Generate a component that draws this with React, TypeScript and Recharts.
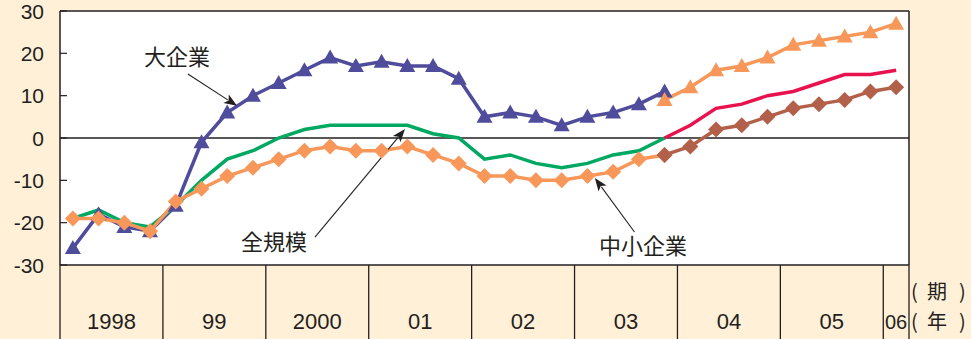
import {
  ComposedChart,
  Line,
  XAxis,
  YAxis,
  CartesianGrid,
  ReferenceLine,
  ReferenceDot,
} from 'recharts'

// Quarters 1998 Q1 .. 2006 Q1
const quarters = [
  '98Q1', '98Q2', '98Q3', '98Q4',
  '99Q1', '99Q2', '99Q3', '99Q4',
  '00Q1', '00Q2', '00Q3', '00Q4',
  '01Q1', '01Q2', '01Q3', '01Q4',
  '02Q1', '02Q2', '02Q3', '02Q4',
  '03Q1', '03Q2', '03Q3', '03Q4',
  '04Q1', '04Q2', '04Q3', '04Q4',
  '05Q1', '05Q2', '05Q3', '05Q4',
  '06Q1',
]
const yearLabels = ['1998', '99', '2000', '01', '02', '03', '04', '05', '06']
const yearStarts = [0, 4, 8, 12, 16, 20, 24, 28, 32, 33]
const yTicks = [-30, -20, -10, 0, 10, 20, 30]

// old basis (to 2003 Q4)
const largeOld = [-26, -18, -21, -22, -16, -1, 6, 10, 13, 16, 19, 17, 18, 17, 17, 14, 5, 6, 5, 3, 5, 6, 8, 11]
const allOld = [-19, -17, -20, -21, -16, -10, -5, -3, 0, 2, 3, 3, 3, 3, 1, 0, -5, -4, -6, -7, -6, -4, -3, 0]
const smallOld = [-19, -19, -20, -22, -15, -12, -9, -7, -5, -3, -2, -3, -3, -2, -4, -6, -9, -9, -10, -10, -9, -8, -5, -4]
// new basis (from 2003 Q4)
const largeNew = [9, 12, 16, 17, 19, 22, 23, 24, 25, 27]
const allNew = [0, 3, 7, 8, 10, 11, 13, 15, 15, 16]
const smallNew = [-4, -2, 2, 3, 5, 7, 8, 9, 11, 12]
const NEW_START = 23

const data = quarters.map((q, i) => ({
  q,
  x: i + 0.5,
  largeOld: largeOld[i] ?? null,
  allOld: allOld[i] ?? null,
  smallOld: smallOld[i] ?? null,
  largeNew: i >= NEW_START ? largeNew[i - NEW_START] : null,
  allNew: i >= NEW_START ? allNew[i - NEW_START] : null,
  smallNew: i >= NEW_START ? smallNew[i - NEW_START] : null,
}))

const W = 971
const H = 339
const LEFT = 60
const RIGHT = 909
const TOP = 11
const AXIS_H = 74
const UNIT = (RIGHT - LEFT) / quarters.length

const BG = '#FFF0D7'
const INK = '#231F20'
const NUM_FONT = '"Liberation Sans", Arial, sans-serif'
const CJK_FONT = '"Noto Sans CJK JP", sans-serif'

const C_LARGE = '#4F4C9C'
const C_ALL = '#00A862'
const C_SMALL = '#F7985A'
const C_ALL_NEW = '#E8124F'
const C_SMALL_NEW = '#B3604A'

const triangle = (color: string) => (p: any) => {
  const { cx, cy, index } = p
  if (cx == null || cy == null || p.value == null) return <g key={`t${index}`} />
  return (
    <polygon
      key={`t${index}`}
      points={`${cx},${cy - 8} ${cx - 8},${cy + 6} ${cx + 8},${cy + 6}`}
      fill={color}
    />
  )
}

const diamond = (color: string) => (p: any) => {
  const { cx, cy, index } = p
  if (cx == null || cy == null || p.value == null) return <g key={`d${index}`} />
  return (
    <polygon
      key={`d${index}`}
      points={`${cx},${cy - 8} ${cx + 8},${cy} ${cx},${cy + 8} ${cx - 8},${cy}`}
      fill={color}
    />
  )
}

function YTick(props: any) {
  const { x, y, payload } = props
  return (
    <g>
      <line x1={LEFT} x2={LEFT + 7} y1={y} y2={y} stroke={INK} strokeWidth={1.2} />
      <text x={LEFT - 16} y={y} dy="0.36em" textAnchor="end" fontSize={21} fill={INK} fontFamily={NUM_FONT}>
        {payload.value}
      </text>
    </g>
  )
}

function YearTick(props: any) {
  const { x, y, payload } = props
  const v = payload.value as number
  const k = yearStarts.indexOf(v)
  const span = k >= 0 && k < yearStarts.length - 1 ? yearStarts[k + 1] - v : 0
  return (
    <g>
      <line x1={x} x2={x} y1={y} y2={y + AXIS_H} stroke={INK} strokeWidth={1.3} />
      {span > 0 && (
        <text
          x={x + (span * UNIT) / 2}
          y={y + 64}
          textAnchor="middle"
          fontSize={span < 4 ? 20 : 22}
          fill={INK}
          fontFamily={NUM_FONT}
        >
          {yearLabels[k]}
        </text>
      )}
      {k === yearStarts.length - 1 && (
        <g fontFamily={CJK_FONT} fontSize={20} fill={INK}>
          <text x={x + 2} y={y + 34}>(</text>
          <text x={x + 18} y={y + 34}>期</text>
          <text x={x + 50} y={y + 34}>)</text>
          <text x={x + 2} y={y + 64}>(</text>
          <text x={x + 18} y={y + 64}>年</text>
          <text x={x + 50} y={y + 64}>)</text>
        </g>
      )}
    </g>
  )
}

const arrow = (p: any) => {
  const { x1, y1, x2, y2 } = p
  if ([x1, y1, x2, y2].some((v) => v == null)) return <g />
  const dx = x2 - x1
  const dy = y2 - y1
  const len = Math.hypot(dx, dy)
  const ux = dx / len
  const uy = dy / len
  const bx = x2 - ux * 13
  const by = y2 - uy * 13
  const nx = -uy * 5
  const ny = ux * 5
  return (
    <g>
      <line x1={x1} y1={y1} x2={bx + ux * 2} y2={by + uy * 2} stroke={INK} strokeWidth={1.1} />
      <polygon points={`${x2},${y2} ${bx + nx},${by + ny} ${bx + ux * 3},${by + uy * 3} ${bx - nx},${by - ny}`} fill={INK} />
    </g>
  )
}

const label = (text: string) => (p: any) => (
  <text x={p.cx} y={p.cy} dy="0.36em" textAnchor="middle" fontSize={22} fill={INK} fontFamily={CJK_FONT}>
    {text}
  </text>
)

export default function App() {
  return (
    <div style={{ position: 'absolute', left: 0, top: 0, width: W, height: H, background: BG }}>
      <ComposedChart
        width={W}
        height={H}
        data={data}
        margin={{ top: TOP, right: W - RIGHT, bottom: 0, left: 0 }}
      >
        <CartesianGrid horizontal={false} vertical={false} fill="#ffffff" />
        <XAxis
          type="number"
          dataKey="x"
          domain={[0, quarters.length]}
          ticks={yearStarts}
          interval={0}
          height={AXIS_H}
          tickSize={0}
          tickMargin={0}
          axisLine={{ stroke: INK, strokeWidth: 1.5 }}
          tick={<YearTick />}
        />
        <YAxis
          type="number"
          domain={[-30, 30]}
          ticks={yTicks}
          interval={0}
          width={LEFT}
          tickSize={0}
          tickMargin={0}
          axisLine={{ stroke: INK, strokeWidth: 1.5 }}
          tickLine={false}
          tick={<YTick />}
        />
        <ReferenceLine y={30} stroke={INK} strokeWidth={1.5} />
        <ReferenceLine x={quarters.length} stroke={INK} strokeWidth={1.5} />
        <ReferenceLine y={0} stroke={INK} strokeWidth={1.5} />

        <Line dataKey="largeOld" stroke={C_LARGE} strokeWidth={3.5} dot={triangle(C_LARGE)} isAnimationActive={false} />
        <Line dataKey="allOld" stroke={C_ALL} strokeWidth={3.5} dot={false} isAnimationActive={false} />
        <Line dataKey="smallOld" stroke={C_SMALL} strokeWidth={3.5} dot={diamond(C_SMALL)} isAnimationActive={false} />
        <Line dataKey="largeNew" stroke={C_SMALL} strokeWidth={3.5} dot={triangle(C_SMALL)} isAnimationActive={false} />
        <Line dataKey="allNew" stroke={C_ALL_NEW} strokeWidth={3.5} dot={false} isAnimationActive={false} />
        <Line dataKey="smallNew" stroke={C_SMALL_NEW} strokeWidth={3.5} dot={diamond(C_SMALL_NEW)} isAnimationActive={false} />

        <ReferenceLine segment={[{ x: 4.97, y: 15.1 }, { x: 6.88, y: 7.6 }]} shape={arrow} />
        <ReferenceLine segment={[{ x: 9.91, y: -23.4 }, { x: 13.41, y: 2.1 }]} shape={arrow} />
        <ReferenceLine segment={[{ x: 22.33, y: -22.2 }, { x: 20.79, y: -9.45 }]} shape={arrow} />
        <ReferenceDot x={4.55} y={19.1} r={0} shape={label('大企業')} />
        <ReferenceDot x={8.32} y={-24.6} r={0} shape={label('全規模')} />
        <ReferenceDot x={22.66} y={-25.5} r={0} shape={label('中小企業')} />
      </ComposedChart>
    </div>
  )
}
